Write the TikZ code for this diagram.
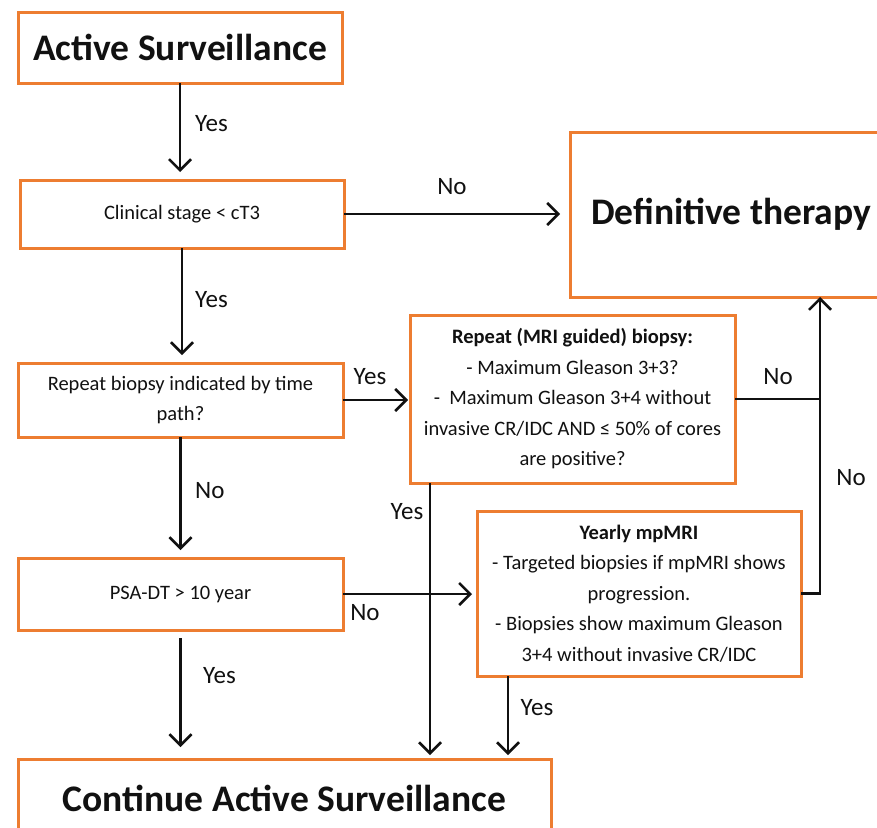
\documentclass[tikz,border=0pt]{standalone}
\usepackage{fontspec}
\setmainfont{Carlito}
\usetikzlibrary{arrows.meta,calc}
\definecolor{boxorange}{HTML}{ED7D31}
\definecolor{ink}{HTML}{111111}
\begin{document}
\begin{tikzpicture}[x=1pt,y=-1pt,
  box/.style={draw=boxorange,line width=3pt,fill=white,anchor=north west,
    inner sep=0pt,outer sep=0pt,align=center,text=ink},
  big/.style={font=\fontsize{37.5}{44}\selectfont\bfseries},
  small/.style={font=\fontsize{20.5}{30.5}\selectfont},
  lab/.style={font=\fontsize{25}{30}\selectfont,inner sep=0pt,text=ink},
  arr/.style={line width=2.5pt,draw=ink,-{Straight Barb[length=11pt,width=22pt]}},
  ln/.style={line width=2.5pt,draw=ink}]
\useasboundingbox (0,0) rectangle (877,827);
\fill[white] (0,0) rectangle (877,827);
\clip (0,0) rectangle (877,827);

% boxes
\node[box,big,minimum width=324pt,minimum height=71pt] (as) at (18,12) {Active Surveillance};
\node[box,small,minimum width=324pt,minimum height=68pt] (cs) at (20,180) {Clinical stage < cT3};
\node[box,big,minimum width=322pt,minimum height=165pt] (dt) at (570,132) {Definitive therapy};
\node[box,small,minimum width=325pt,minimum height=74pt] (rb) at (18,363) {Repeat biopsy indicated by time\\path?};
\node[box,small,minimum width=325pt,minimum height=168pt] (rm) at (410,315)
  {\textbf{Repeat (MRI guided) biopsy:}\\- Maximum Gleason 3+3?\\-\ \ Maximum Gleason 3+4 without\\invasive CR/IDC AND ≤ 50\% of cores\\are positive?};
\node[box,small,minimum width=325pt,minimum height=72pt] (psa) at (18,558) {PSA-DT > 10 year};
\node[box,small,minimum width=324pt,minimum height=165pt] (ym) at (477,511)
  {\textbf{Yearly mpMRI}\\- Targeted biopsies if mpMRI shows\\progression.\\- Biopsies show maximum Gleason\\3+4 without invasive CR/IDC};
\node[box,big,minimum width=533pt,minimum height=78pt] (cas) at (18,759) {Continue Active Surveillance};

\coordinate (dtin) at ([xshift=250pt]dt.south west);
\coordinate (rmout) at ([xshift=20pt]rm.south west);
\coordinate (ymout) at ([xshift=31pt]ym.south west);

% connectors
\draw[arr,shorten >=8pt] (as.south) -- (as.south |- cs.north);
\draw[arr,shorten >=10pt] (cs.east) -- (dt.west |- cs.east);
\draw[arr,shorten >=8pt] (cs.south) -- (cs.south |- rb.north);
\draw[arr,shorten >=2pt] (rb.east) -- (rb.east -| rm.west);
\draw[ln] (rm.east) -- (rm.east -| dtin);
\draw[arr] (ym.east) -| (dtin);
\draw[arr,shorten >=8pt] (rb.south) -- (rb.south |- psa.north);
\draw[arr,shorten >=5pt] (psa.east) -- (psa.east -| ym.west);
\draw[arr,shorten >=4pt] (rmout) -- (rmout |- cas.north);
\draw[arr,shorten >=4pt] (ymout) -- (ymout |- cas.north);
\draw[arr,shorten <=8pt,shorten >=12pt] (psa.south) -- (psa.south |- cas.north);

% labels
\node[lab,anchor=west] (y1) at (195,124) {Yes};
\node[lab] (n1) at (452,187) {No};
\node[lab,anchor=west] (y2) at (195,300) {Yes};
\node[lab] (y3) at (370,377) {Yes};
\node[lab] (n2) at (778,377) {No};
\node[lab] (n3) at (851,478) {No};
\node[lab,anchor=west] (n4) at (195,491) {No};
\node[lab] (y4) at (407,512) {Yes};
\node[lab] (n5) at (365,613) {No};
\node[lab,anchor=west] (y5) at (203,676) {Yes};
\node[lab] (y6) at (537,708) {Yes};
\end{tikzpicture}
\end{document}
